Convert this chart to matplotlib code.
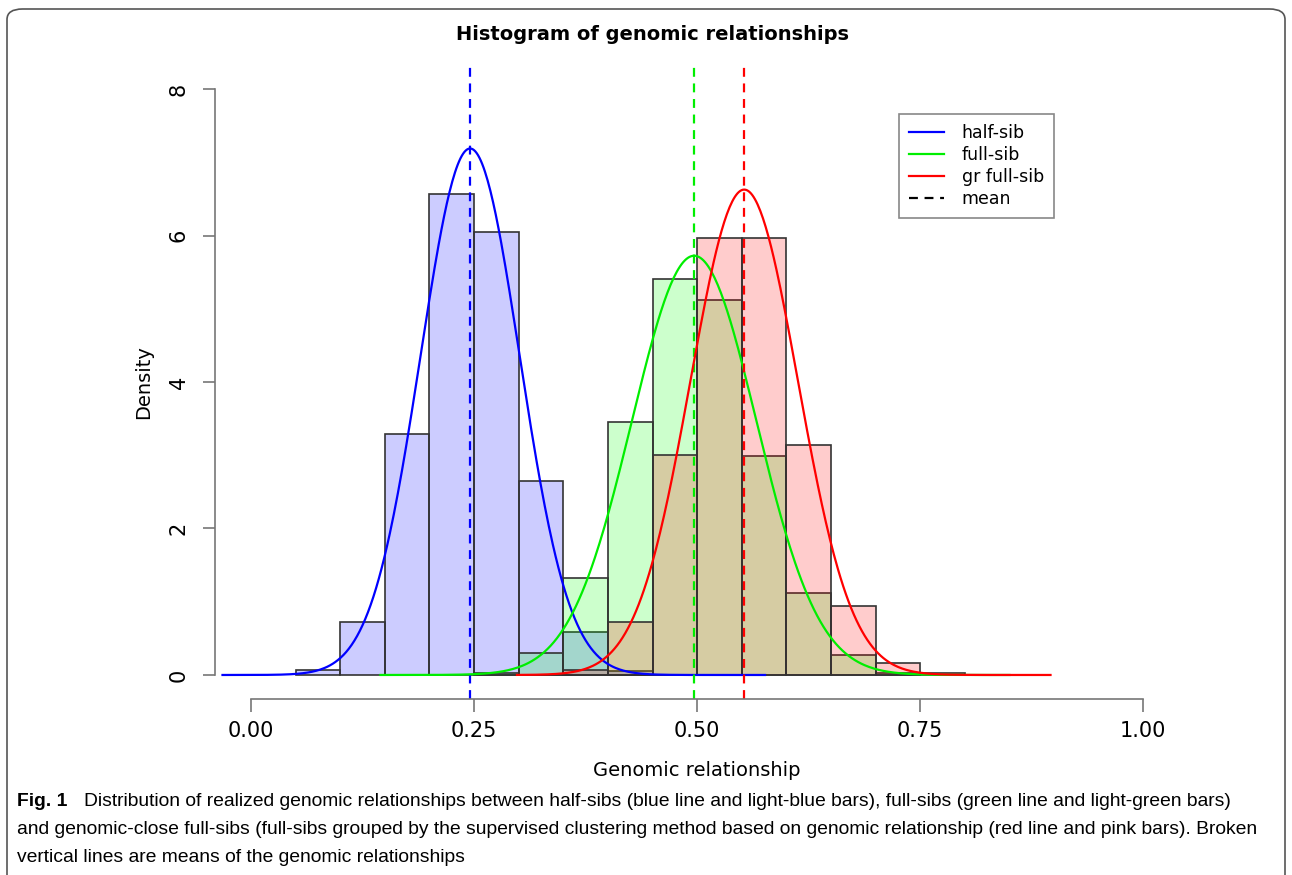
import numpy as np
import matplotlib
matplotlib.use("Agg")
import matplotlib.pyplot as plt
from matplotlib.lines import Line2D
from matplotlib.patches import FancyBboxPatch

# ---------------- DATA ----------------
BIN_W = 0.05
half_left = [0.05, 0.10, 0.15, 0.20, 0.25, 0.30, 0.35, 0.40]
half_dens = [0.07, 0.72, 3.29, 6.57, 6.05, 2.65, 0.58, 0.05]

full_left = [0.25, 0.30, 0.35, 0.40, 0.45, 0.50, 0.55, 0.60, 0.65, 0.70]
full_dens = [0.03, 0.30, 1.32, 3.46, 5.40, 5.12, 2.99, 1.12, 0.27, 0.03]

gr_left = [0.35, 0.40, 0.45, 0.50, 0.55, 0.60, 0.65, 0.70, 0.75]
gr_dens = [0.07, 0.73, 3.01, 5.96, 5.96, 3.14, 0.94, 0.17, 0.03]

# fitted normal curves: mean, sd, drawn range
half_mean, half_sd, half_rng = 0.2455, 0.0555, (-0.032, 0.576)
full_mean, full_sd, full_rng = 0.4966, 0.0697, (0.145, 0.85)
gr_mean, gr_sd, gr_rng = 0.5527, 0.0602, (0.298, 0.896)

x_ticks = [0.00, 0.25, 0.50, 0.75, 1.00]
x_ticklabels = ["0.00", "0.25", "0.50", "0.75", "1.00"]
y_ticks = [0, 2, 4, 6, 8]
# ------------------------------------------------------------

def dnorm(x, m, s):
    return np.exp(-0.5 * ((x - m) / s) ** 2) / (s * np.sqrt(2 * np.pi))

fig = plt.figure(figsize=(12.92, 8.75), dpi=100)
ax = fig.add_axes([215 / 1292, 1 - 699 / 875, (1179 - 215) / 1292, (699 - 65) / 875])

# bars: blue, green, red (red drawn last, as in the original)
ax.bar(half_left, half_dens, width=BIN_W, align="edge", color=(0, 0, 1, 0.2),
       edgecolor="#333333", linewidth=1.2)
ax.bar(full_left, full_dens, width=BIN_W, align="edge", color=(0, 1, 0, 0.2),
       edgecolor="#333333", linewidth=1.2)
ax.bar(gr_left, gr_dens, width=BIN_W, align="edge", color=(1, 0, 0, 0.2),
       edgecolor="#333333", linewidth=1.2)

for m, s, rng, c in [(half_mean, half_sd, half_rng, "#0000ff"),
                     (full_mean, full_sd, full_rng, "#00ee00"),
                     (gr_mean, gr_sd, gr_rng, "#ff0000")]:
    xs = np.linspace(rng[0], rng[1], 400)
    ax.plot(xs, dnorm(xs, m, s), color=c, lw=1.6)
    ax.axvline(m, color=c, lw=1.6, ls=(0, (4, 3)), clip_on=False)

ax.set_xlim(-0.0404, 1.04)
ax.set_ylim(-0.328, 8.328)

# R-style detached axes
for sp in ["top", "right"]:
    ax.spines[sp].set_visible(False)
ax.spines["left"].set_bounds(0, 8)
ax.spines["bottom"].set_bounds(0, 1)
for sp in ["left", "bottom"]:
    ax.spines[sp].set_color("#777777")
    ax.spines[sp].set_linewidth(1.2)
ax.set_xticks(x_ticks)
ax.set_xticklabels(x_ticklabels)
ax.set_yticks(y_ticks)
ax.set_yticklabels([str(v) for v in y_ticks], rotation=90, va="center")
ax.tick_params(axis="both", length=9, width=1.2, color="#777777",
               labelsize=15, pad=7)
ax.tick_params(axis="y", pad=10)

ax.set_xlabel("Genomic relationship", fontsize=14, labelpad=14)
ax.set_ylabel("Density", fontsize=14, labelpad=11)

fig.text(653 / 1292, 1 - 35 / 875, "Histogram of genomic relationships",
         ha="center", va="center", fontsize=14, fontweight="bold")

handles = [Line2D([], [], color="#0000ff", lw=1.6),
           Line2D([], [], color="#00ee00", lw=1.6),
           Line2D([], [], color="#ff0000", lw=1.6),
           Line2D([], [], color="black", lw=1.6, ls=(0, (4, 3)))]
leg = ax.legend(handles, ["half-sib", "full-sib", "gr full-sib", "mean"],
                loc="upper left", bbox_to_anchor=(899 / 1292, 1 - 114 / 875),
                bbox_transform=fig.transFigure, fontsize=12.5, fancybox=False,
                framealpha=1, edgecolor="#888888", borderpad=0.6, borderaxespad=0,
                labelspacing=0.22, handlelength=2.0, handletextpad=1.0)
leg.get_frame().set_linewidth(1.2)

# caption and frame
cap_font = ["Liberation Sans", "DejaVu Sans"]
cap_size = 13.9
fig.text(17 / 1292, 1 - 801 / 875, "Fig. 1", fontsize=cap_size, fontweight="bold",
         family=cap_font, va="center", ha="left")
fig.text(84 / 1292, 1 - 801 / 875,
         "Distribution of realized genomic relationships between half-sibs (blue line and light-blue bars), "
         "full-sibs (green line and light-green bars)",
         fontsize=cap_size, family=cap_font, va="center", ha="left")
fig.text(17 / 1292, 1 - 830 / 875,
         "and genomic-close full-sibs (full-sibs grouped by the supervised clustering method based on "
         "genomic relationship (red line and pink bars). Broken",
         fontsize=cap_size, family=cap_font, va="center", ha="left")
fig.text(17 / 1292, 1 - 858 / 875,
         "vertical lines are means of the genomic relationships",
         fontsize=cap_size, family=cap_font, va="center", ha="left")

frame = FancyBboxPatch((7 / 1292, -0.02), (1285 - 7) / 1292, (1 - 9 / 875) + 0.02,
                       boxstyle="round,pad=0,rounding_size=0.012",
                       transform=fig.transFigure, fill=False,
                       edgecolor="#555555", linewidth=1.2)
fig.patches.append(frame)

plt.savefig("out.png", dpi=100)
